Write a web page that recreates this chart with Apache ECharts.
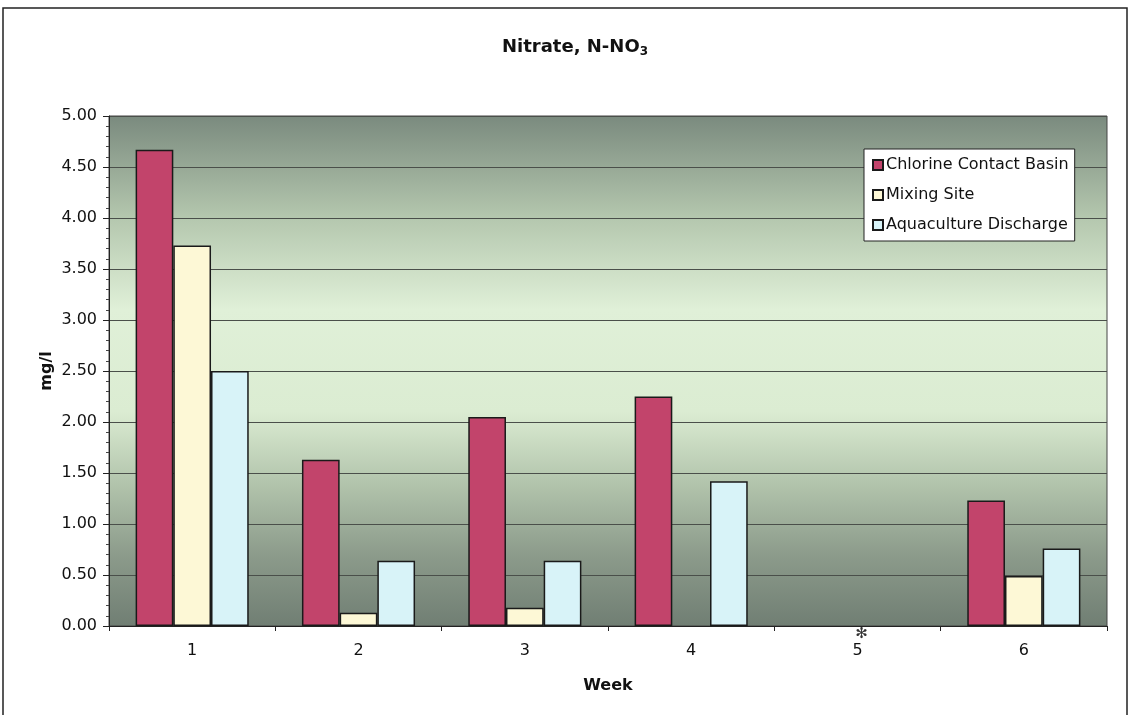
<!DOCTYPE html>
<html>
<head>
<meta charset="utf-8">
<script src="https://cdn.jsdelivr.net/npm/echarts@6/dist/echarts.min.js"></script>
<style>
  html, body { margin: 0; padding: 0; background: #fff; }
  #chart { width: 1132px; height: 715px; }
</style>
</head>
<body>
<div id="chart"></div>
<script>
const weeks = ['1', '2', '3', '4', '5', '6']
const chlorineBasin = [4.67, 1.63, 2.05, 2.25, null, 1.23]
const mixingSite = [3.73, 0.13, 0.18, null, null, 0.49]
const aquaDischarge = [2.50, 0.64, 0.64, 1.42, null, 0.76]
const yTicks = [0, 0.5, 1, 1.5, 2, 2.5, 3, 3.5, 4, 4.5, 5]
const noDataWeek = '5'

const font = 'DejaVu Sans, Liberation Sans, sans-serif'
const chart = echarts.init(document.getElementById('chart'))

const barStyle = (color) => ({
  color: color,
  borderColor: '#1a1a1a',
  borderWidth: 1.5
})

chart.setOption({
  animation: false,
  textStyle: { fontFamily: font },
  title: {
    left: 497,
    top: 29,
    text: '{a|Nitrate, N-NO}{b|3}',
    textStyle: {
      rich: {
        a: { fontFamily: font, fontSize: 18, fontWeight: 'bold', color: '#111', lineHeight: 26 },
        b: { fontFamily: font, fontSize: 12, fontWeight: 'bold', color: '#111', lineHeight: 26, padding: [10, 0, 0, 0] }
      }
    }
  },
  legend: {
    orient: 'vertical',
    left: 864,
    top: 149,
    width: 212,
    padding: [8, 6, 8, 8],
    itemGap: 14,
    itemWidth: 10,
    itemHeight: 10,
    backgroundColor: '#fff',
    borderColor: '#222',
    borderWidth: 1,
    icon: 'rect',
    textStyle: { fontFamily: font, fontSize: 16, color: '#111', padding: [0, 0, 0, -2] },
    data: ['Chlorine Contact Basin', 'Mixing Site', 'Aquaculture Discharge']
  },
  grid: {
    left: 109,
    right: 25,
    top: 116,
    bottom: 89,
    show: true,
    borderColor: '#444',
    borderWidth: 1,
    backgroundColor: {
      type: 'linear', x: 0, y: 0, x2: 0, y2: 1,
      colorStops: [
        { offset: 0, color: '#7a8a7e' },
        { offset: 0.2, color: '#b4c7ae' },
        { offset: 0.38, color: '#e0f0d8' },
        { offset: 0.58, color: '#dbecd2' },
        { offset: 0.72, color: '#b2c4ac' },
        { offset: 0.86, color: '#8c9b8b' },
        { offset: 1, color: '#707e73' }
      ]
    }
  },
  xAxis: {
    type: 'category',
    data: weeks,
    name: 'Week',
    nameLocation: 'middle',
    nameGap: 52,
    nameMoveOverlap: false,
    nameTextStyle: { fontFamily: font, fontSize: 16, fontWeight: 'bold', color: '#111' },
    axisLine: { lineStyle: { color: '#222', width: 1 } },
    axisTick: { show: true, length: 5, lineStyle: { color: '#222' } },
    axisLabel: {
      margin: 1,
      formatter: (v) => '{s|' + (v === noDataWeek ? '\u273B' : ' ') + '}\n{n|' + v + '}',
      rich: {
        s: { fontFamily: 'DejaVu Sans', fontSize: 15, color: '#333', lineHeight: 14, padding: [0, 0, 0, 8] },
        n: { fontFamily: font, fontSize: 16, color: '#111', lineHeight: 20 }
      }
    }
  },
  yAxis: {
    type: 'value',
    min: yTicks[0],
    max: yTicks[yTicks.length - 1],
    interval: 0.5,
    name: 'mg/l',
    nameLocation: 'middle',
    nameGap: 54,
    nameMoveOverlap: false,
    nameTextStyle: { fontFamily: font, fontSize: 16, fontWeight: 'bold', color: '#111' },
    axisLine: { show: true, lineStyle: { color: '#222', width: 1 } },
    axisTick: { show: true, length: 6, lineStyle: { color: '#222' } },
    minorTick: { show: true, splitNumber: 5, length: 3, lineStyle: { color: '#444' } },
    axisLabel: {
      margin: 12,
      fontFamily: font,
      fontSize: 16,
      color: '#111',
      formatter: (v) => v.toFixed(2)
    },
    splitLine: { lineStyle: { color: '#4a4f4a', width: 1 } }
  },
  series: [
    {
      name: 'Chlorine Contact Basin',
      type: 'bar',
      data: chlorineBasin,
      barGap: '0%',
      barCategoryGap: '32%',
      itemStyle: barStyle('#c2446b')
    },
    {
      name: 'Mixing Site',
      type: 'bar',
      data: mixingSite,
      itemStyle: barStyle('#fdf8d6')
    },
    {
      name: 'Aquaculture Discharge',
      type: 'bar',
      data: aquaDischarge,
      itemStyle: barStyle('#d8f3f8')
    }
  ],
  graphic: [
    {
      type: 'rect',
      shape: { x: 3, y: 8, width: 1124, height: 720 },
      style: { fill: 'none', stroke: '#222', lineWidth: 1.5 },
      silent: true
    }
  ]
})
</script>
</body>
</html>
